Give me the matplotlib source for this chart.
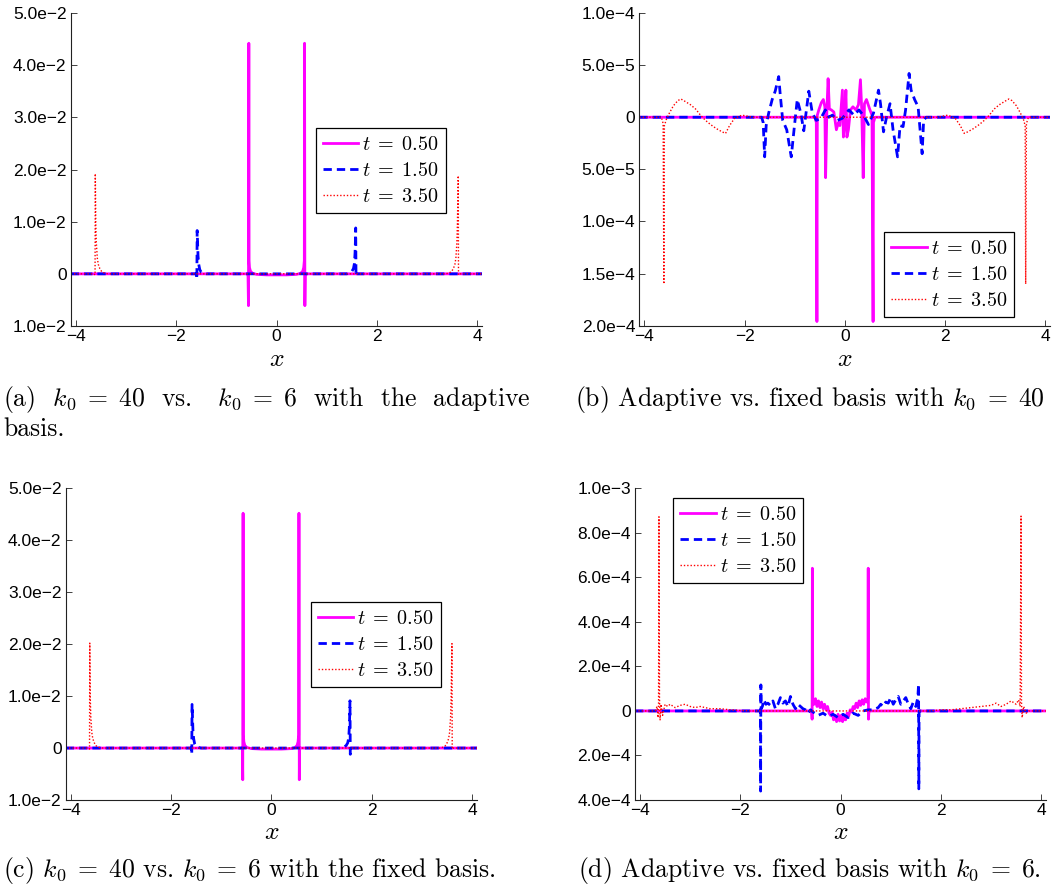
import matplotlib
matplotlib.use('Agg')
import matplotlib.pyplot as plt

TICK_FONT = ['Liberation Sans', 'DejaVu Sans']
plt.rcParams['mathtext.fontset'] = 'cm'
plt.rcParams['axes.unicode_minus'] = True
plt.rcParams['font.family'] = TICK_FONT
plt.rcParams['xtick.labelsize'] = 12.5
plt.rcParams['ytick.labelsize'] = 12.5

# ---------------- data (x, y) ----------------
SERIES_LABELS = [r'$t\;=\;0.50$', r'$t\;=\;1.50$', r'$t\;=\;3.50$']

XTICKS = [-4, -2, 0, 2, 4]
XTICKLABELS = ['\u22124', '\u22122', '0', '2', '4']

# panel (a)
A_T050 = [(-4.1, 0), (-0.60, 0), (-0.57, 0), (-0.56, -0.0061), (-0.553, 0.0442), (-0.548, 0.0025),
          (-0.54, 0.0012), (-0.52, 0.0005), (-0.48, 0.0001), (-0.40, -0.0001), (-0.2, -0.0002),
          (0.0, -0.0002), (0.2, -0.0002), (0.40, -0.0001), (0.48, 0.0001), (0.52, 0.0005),
          (0.54, 0.0012), (0.552, 0.0025), (0.557, 0.0442), (0.563, -0.0061), (0.57, 0), (0.60, 0), (4.1, 0)]
A_T150 = [(-4.1, 0), (-1.60, 0), (-1.588, -0.0010), (-1.582, 0.0083), (-1.575, 0.0065), (-1.565, 0.0035),
          (-1.55, 0.0018), (-1.53, 0.0008), (-1.50, 0.0003), (-1.45, 0.0001), (-1.40, 0), (1.40, 0),
          (1.45, 0.0002), (1.50, 0.0005), (1.53, 0.0010), (1.55, 0.0020), (1.562, 0.0040), (1.57, 0.0065),
          (1.575, 0.0088), (1.581, -0.0004), (1.59, 0), (4.1, 0)]
A_T350 = [(-4.1, 0), (-3.64, 0), (-3.615, -0.0002), (-3.61, 0.0192), (-3.60, 0.0095), (-3.59, 0.0060),
          (-3.57, 0.0030), (-3.55, 0.0018), (-3.52, 0.0010), (-3.48, 0.0004), (-3.42, 0.0001), (-3.35, 0),
          (3.35, 0), (3.42, 0.0001), (3.48, 0.0004), (3.52, 0.0010), (3.55, 0.0018), (3.57, 0.0030),
          (3.59, 0.0060), (3.60, 0.0095), (3.617, 0.0188), (3.622, -0.0002), (3.64, 0), (4.1, 0)]
A_YTICKS = [-0.01, 0, 0.01, 0.02, 0.03, 0.04, 0.05]
A_YLABELS = ['1.0e\u22122', '0', '1.0e\u22122', '2.0e\u22122', '3.0e\u22122', '4.0e\u22122', '5.0e\u22122']

# panel (b)
B_T050 = [(-4.1, 0), (-0.60, 0), (-0.57, -0.5e-5), (-0.558, -19.6e-5), (-0.55, 0.2e-5), (-0.52, 0.7e-5),
          (-0.47, 1.4e-5), (-0.43, 1.7e-5), (-0.40, 1.0e-5), (-0.385, -5.8e-5), (-0.36, 0.6e-5),
          (-0.335, 3.7e-5), (-0.31, 0.8e-5), (-0.27, 0.7e-5), (-0.22, 0.5e-5), (-0.17, -1.2e-5),
          (-0.13, -0.5e-5), (-0.10, -0.8e-5), (-0.05, 2.6e-5), (-0.03, -1.9e-5), (-0.01, -0.8e-5),
          (0.02, 2.6e-5), (0.04, -1.9e-5), (0.07, -1.2e-5), (0.11, 0.7e-5), (0.16, 1.0e-5), (0.22, 0.7e-5),
          (0.27, 1.2e-5), (0.31, 3.6e-5), (0.335, 0.8e-5), (0.365, -5.8e-5), (0.39, 1.3e-5), (0.43, 1.7e-5),
          (0.50, 0.7e-5), (0.54, 0.2e-5), (0.562, -19.6e-5), (0.57, -0.5e-5), (0.60, 0), (4.1, 0)]
B_T150 = [(-4.1, 0), (-1.66, 0), (-1.63, -0.5e-5), (-1.60, -3.8e-5), (-1.57, -0.8e-5), (-1.52, 0.4e-5),
          (-1.45, 1.7e-5), (-1.39, 2.5e-5), (-1.32, 3.9e-5), (-1.29, 2.2e-5), (-1.24, -0.3e-5),
          (-1.16, -1.2e-5), (-1.07, -3.8e-5), (-1.01, -1.0e-5), (-0.95, 1.7e-5), (-0.88, 0.4e-5),
          (-0.82, -1.3e-5), (-0.72, 2.5e-5), (-0.65, 0.4e-5), (-0.57, -0.3e-5), (-0.48, -0.1e-5),
          (-0.39, 0.7e-5), (-0.32, 0.0), (-0.25, 0.2e-5), (-0.15, -0.3e-5), (-0.05, -0.1e-5), (0.08, 0.7e-5),
          (0.18, 0.2e-5), (0.28, 0.7e-5), (0.38, 0.1e-5), (0.47, -0.7e-5), (0.57, 0.4e-5), (0.67, 2.6e-5),
          (0.71, 1.3e-5), (0.77, -1.4e-5), (0.83, 0.0), (0.90, 1.3e-5), (0.96, -1.2e-5), (1.05, -3.8e-5),
          (1.10, -0.8e-5), (1.16, -0.9e-5), (1.21, 0.7e-5), (1.28, 4.2e-5), (1.32, 2.6e-5), (1.39, 1.7e-5),
          (1.46, 1.0e-5), (1.54, -3.5e-5), (1.57, -0.3e-5), (1.62, 0), (4.1, 0)]
B_T350 = [(-4.1, 0), (-3.66, 0), (-3.625, -0.6e-5), (-3.61, -16.0e-5), (-3.60, -0.8e-5), (-3.56, -0.2e-5),
          (-3.50, 0.4e-5), (-3.42, 1.1e-5), (-3.33, 1.6e-5), (-3.27, 1.75e-5), (-3.18, 1.5e-5),
          (-3.08, 1.2e-5), (-2.98, 0.8e-5), (-2.88, 0.2e-5), (-2.78, -0.3e-5), (-2.68, -0.7e-5),
          (-2.56, -1.1e-5), (-2.45, -1.4e-5), (-2.38, -1.55e-5), (-2.30, -0.8e-5), (-2.20, -0.1e-5),
          (-2.05, 0.2e-5), (-1.85, 0), (1.85, 0), (2.05, 0.2e-5), (2.20, -0.1e-5), (2.30, -0.8e-5),
          (2.38, -1.55e-5), (2.45, -1.4e-5), (2.56, -1.1e-5), (2.68, -0.7e-5), (2.78, -0.3e-5),
          (2.88, 0.2e-5), (2.98, 0.8e-5), (3.08, 1.2e-5), (3.18, 1.5e-5), (3.27, 1.75e-5), (3.33, 1.6e-5),
          (3.42, 1.1e-5), (3.50, 0.4e-5), (3.56, -0.2e-5), (3.595, -0.8e-5), (3.605, -16.0e-5),
          (3.62, -0.6e-5), (3.66, 0), (4.1, 0)]
B_YTICKS = [-2e-4, -1.5e-4, -1e-4, -5e-5, 0, 5e-5, 1e-4]
B_YLABELS = ['2.0e\u22124', '1.5e\u22124', '1.0e\u22124', '5.0e\u22125', '0', '5.0e\u22125', '1.0e\u22124']

# panel (c)
C_T050 = [(-4.1, 0), (-0.61, 0), (-0.58, 0), (-0.572, -0.0061), (-0.565, 0.0452), (-0.56, 0.0025),
          (-0.55, 0.0012), (-0.53, 0.0005), (-0.49, 0.0001), (-0.40, -0.0001), (-0.2, -0.0002),
          (0.0, -0.0002), (0.2, -0.0002), (0.40, -0.0001), (0.47, 0.0001), (0.51, 0.0005),
          (0.53, 0.0012), (0.542, 0.0025), (0.548, 0.0452), (0.555, -0.0061), (0.56, 0), (0.60, 0), (4.1, 0)]
C_T150 = [(-4.1, 0), (-1.60, 0), (-1.588, -0.0012), (-1.582, 0.0084), (-1.575, 0.0065), (-1.565, 0.0035),
          (-1.55, 0.0018), (-1.53, 0.0008), (-1.50, 0.0003), (-1.45, 0.0001), (-1.40, 0), (1.40, 0),
          (1.45, 0.0002), (1.49, 0.0005), (1.52, 0.0010), (1.54, 0.0020), (1.552, 0.0040), (1.56, 0.0065),
          (1.565, 0.0091), (1.571, -0.0012), (1.58, 0), (4.1, 0)]
C_T350 = [(-4.1, 0), (-3.65, 0), (-3.625, -0.0002), (-3.62, 0.0202), (-3.61, 0.0095), (-3.60, 0.0060),
          (-3.58, 0.0030), (-3.56, 0.0018), (-3.53, 0.0010), (-3.49, 0.0004), (-3.43, 0.0001), (-3.36, 0),
          (3.34, 0), (3.40, 0.0001), (3.46, 0.0004), (3.50, 0.0010), (3.53, 0.0018), (3.55, 0.0030),
          (3.57, 0.0060), (3.58, 0.0095), (3.597, 0.0201), (3.602, -0.0002), (3.62, 0), (4.1, 0)]
C_YTICKS = A_YTICKS
C_YLABELS = A_YLABELS

# panel (d)
D_T050 = [(-4.1, 0), (-0.60, 0), (-0.575, 0), (-0.568, -0.37e-4), (-0.563, 6.41e-4), (-0.555, 0.6e-4),
          (-0.53, 0.3e-4), (-0.50, 0.55e-4), (-0.47, 0.2e-4), (-0.44, 0.45e-4), (-0.41, 0.15e-4),
          (-0.38, 0.4e-4), (-0.35, 0.1e-4), (-0.32, 0.3e-4), (-0.29, 0.05e-4), (-0.26, 0.2e-4),
          (-0.23, -0.1e-4), (-0.20, -0.2e-4), (-0.17, -0.05e-4), (-0.14, -0.4e-4), (-0.11, -0.2e-4),
          (-0.08, -0.48e-4), (-0.05, -0.15e-4), (-0.02, -0.45e-4), (0.01, -0.2e-4), (0.04, -0.48e-4),
          (0.07, -0.25e-4), (0.10, -0.4e-4), (0.13, -0.1e-4), (0.16, -0.25e-4), (0.19, 0.05e-4),
          (0.22, -0.05e-4), (0.25, 0.2e-4), (0.28, 0.1e-4), (0.31, 0.35e-4), (0.34, 0.15e-4),
          (0.37, 0.45e-4), (0.40, 0.25e-4), (0.43, 0.5e-4), (0.46, 0.3e-4), (0.49, 0.55e-4),
          (0.52, 0.4e-4), (0.545, 0.6e-4), (0.551, 6.41e-4), (0.556, -0.37e-4), (0.565, 0), (0.60, 0), (4.1, 0)]
D_T150 = [(-4.1, 0), (-1.62, 0), (-1.60, 0), (-1.595, -3.6e-4), (-1.59, 1.17e-4), (-1.585, 0.1e-4),
          (-1.56, 0.2e-4), (-1.53, 0.5e-4), (-1.49, 0.3e-4), (-1.45, 0.35e-4), (-1.40, 0.25e-4),
          (-1.35, 0.45e-4), (-1.30, 0.1e-4), (-1.25, 0.3e-4), (-1.20, 0.6e-4), (-1.15, 0.35e-4),
          (-1.10, 0.45e-4), (-1.05, 0.2e-4), (-1.00, 0.65e-4), (-0.95, 0.3e-4), (-0.90, 0.1e-4),
          (-0.85, 0.3e-4), (-0.80, 0.2e-4), (-0.75, 0.1e-4), (-0.70, 0.05e-4), (-0.65, -0.1e-4),
          (-0.60, 0.05e-4), (-0.55, -0.05e-4), (-0.45, -0.2e-4), (-0.35, -0.1e-4), (-0.25, -0.25e-4),
          (-0.15, -0.15e-4), (-0.05, -0.3e-4), (0.05, -0.15e-4), (0.15, -0.3e-4), (0.25, -0.1e-4),
          (0.35, -0.2e-4), (0.45, 0.0), (0.55, 0.05e-4), (0.65, 0.05e-4), (0.75, 0.15e-4), (0.80, 0.3e-4),
          (0.85, 0.2e-4), (0.90, 0.4e-4), (0.95, 0.35e-4), (1.00, 0.6e-4), (1.05, 0.3e-4), (1.10, 0.5e-4),
          (1.15, 0.65e-4), (1.20, 0.3e-4), (1.25, 0.45e-4), (1.30, 0.6e-4), (1.35, 0.3e-4), (1.40, 0.1e-4),
          (1.45, 0.4e-4), (1.50, 0.2e-4), (1.54, 0.6e-4), (1.555, 1.2e-4), (1.56, -3.5e-4), (1.565, 0),
          (1.60, 0), (4.1, 0)]
D_T350 = [(-4.1, 0), (-3.70, 0), (-3.66, 0.2e-4), (-3.64, -0.3e-4), (-3.63, 0.3e-4), (-3.622, 8.72e-4),
          (-3.612, 0.6e-4), (-3.60, -0.4e-4), (-3.58, 0.3e-4), (-3.55, -0.2e-4), (-3.50, 0.3e-4),
          (-3.45, 0.2e-4), (-3.40, 0.3e-4), (-3.30, 0.15e-4), (-3.20, 0.25e-4), (-3.10, 0.3e-4),
          (-3.00, 0.2e-4), (-2.90, 0.15e-4), (-2.80, 0.2e-4), (-2.60, 0.1e-4), (-2.40, 0.1e-4),
          (-2.20, 0.05e-4), (-2.00, 0.02e-4), (-1.80, 0), (1.80, 0), (2.00, 0.05e-4), (2.20, 0.05e-4),
          (2.40, 0.1e-4), (2.60, 0.15e-4), (2.80, 0.2e-4), (3.00, 0.25e-4), (3.10, 0.35e-4), (3.20, 0.2e-4),
          (3.30, 0.3e-4), (3.40, 0.45e-4), (3.50, 0.3e-4), (3.55, 0.5e-4), (3.58, 0.2e-4), (3.598, 8.75e-4),
          (3.607, 0.4e-4), (3.62, -0.3e-4), (3.65, 0.2e-4), (3.70, -0.1e-4), (3.75, 0), (4.1, 0)]
D_YTICKS = [-4e-4, -2e-4, 0, 2e-4, 4e-4, 6e-4, 8e-4, 1e-3]
D_YLABELS = ['4.0e\u22124', '2.0e\u22124', '0', '2.0e\u22124', '4.0e\u22124', '6.0e\u22124',
             '8.0e\u22124', '1.0e\u22123']

CAPTIONS = {
    'a': [r'(a)  $k_0\;=\;40$  vs.   $k_0\;=\;6$  with  the  adaptive', 'basis.'],
    'b': [r'(b) Adaptive vs. fixed basis with $k_0\;=\;40$'],
    'c': [r'(c) $k_0\;=\;40$ vs. $k_0\;=\;6$ with the fixed basis.'],
    'd': [r'(d) Adaptive vs. fixed basis with $k_0\;=\;6$.'],
}

# ---------------- layout / style ----------------
W, H = 1058, 891
fig = plt.figure(figsize=(W / 100, H / 100), dpi=100)


def fx(px):
    return px / W


def fy(py):
    return 1 - py / H


STYLES = [
    dict(color=(1, 0, 1), lw=2.0, ls='-'),
    dict(color=(0, 0, 1), lw=2.0, ls=(0, (3, 1.8))),
    dict(color=(1, 0, 0), lw=1.0, ls=(0, (1, 1.4))),
]

panels = [
    # key, axes box px (l, t, r, b), ylim, series, yticks, ylabels, legend top-left px, caption, xlabel y
    ('a', (70.7, 13, 482, 326), (-0.01, 0.05), [A_T050, A_T150, A_T350], A_YTICKS, A_YLABELS,
     (316, 127.7), (3, [406, 436]), 359),
    ('b', (639.3, 13, 1050, 325.7), (-2e-4, 1e-4), [B_T050, B_T150, B_T350], B_YTICKS, B_YLABELS,
     (884.3, 231.7), (575, [406]), 359),
    ('c', (65.7, 488.3, 476.7, 800), (-0.01, 0.05), [C_T050, C_T150, C_T350], C_YTICKS, C_YLABELS,
     (310.7, 601.7), (3, [877]), 832),
    ('d', (635, 488.3, 1045.7, 800), (-4e-4, 1e-3), [D_T050, D_T150, D_T350], D_YTICKS, D_YLABELS,
     (673.3, 497.7), (578, [877]), 832),
]

for key, (l, t, r, b), ylim, series, yt, yl, legpos, cap, xlab_y in panels:
    ax = fig.add_axes([fx(l), fy(b), (r - l) / W, (b - t) / H])
    for pts, st, lab in zip(series, STYLES, SERIES_LABELS):
        xs = [p[0] for p in pts]
        ys = [p[1] for p in pts]
        ax.plot(xs, ys, color=st['color'], lw=st['lw'], linestyle=st['ls'], label=lab)
    ax.set_xlim(-4.1, 4.09)
    ax.set_ylim(*ylim)
    ax.tick_params(direction='in', length=4, width=0.6, colors='#222222', labelcolor='black')
    ax.tick_params(axis='x', pad=2.5)
    ax.tick_params(axis='y', pad=3)
    ax.set_xticks(XTICKS)
    ax.set_xticklabels(XTICKLABELS, fontsize=12.5, family=TICK_FONT)
    ax.set_yticks(yt)
    ax.set_yticklabels(yl, fontsize=12.5, family=TICK_FONT)
    for s in ('top', 'right'):
        ax.spines[s].set_visible(False)
    for s in ('left', 'bottom'):
        ax.spines[s].set_linewidth(0.8)
        ax.spines[s].set_color('#222222')
    leg = ax.legend(loc='upper left', bbox_to_anchor=(fx(legpos[0]), fy(legpos[1])),
                    bbox_transform=fig.transFigure, frameon=True, fancybox=False,
                    edgecolor='black', framealpha=1, borderaxespad=0, borderpad=0.35,
                    handlelength=1.75, handletextpad=0.2, labelspacing=0.35,
                    prop={'size': 14.5})
    leg.get_frame().set_linewidth(0.9)
    # x label
    xc = fx(l + (r - l) * (0 - (-4.1)) / (4.09 - (-4.1)))
    fig.text(xc, fy(xlab_y), r'$x$', fontsize=18.5, ha='center', va='center')
    # caption
    cx, baselines = cap
    for line, yb in zip(CAPTIONS[key], baselines):
        fig.text(fx(cx), fy(yb), line, fontsize=18.5, ha='left', va='baseline', fontfamily='cmr10')

fig.savefig('out.png', dpi=100)
